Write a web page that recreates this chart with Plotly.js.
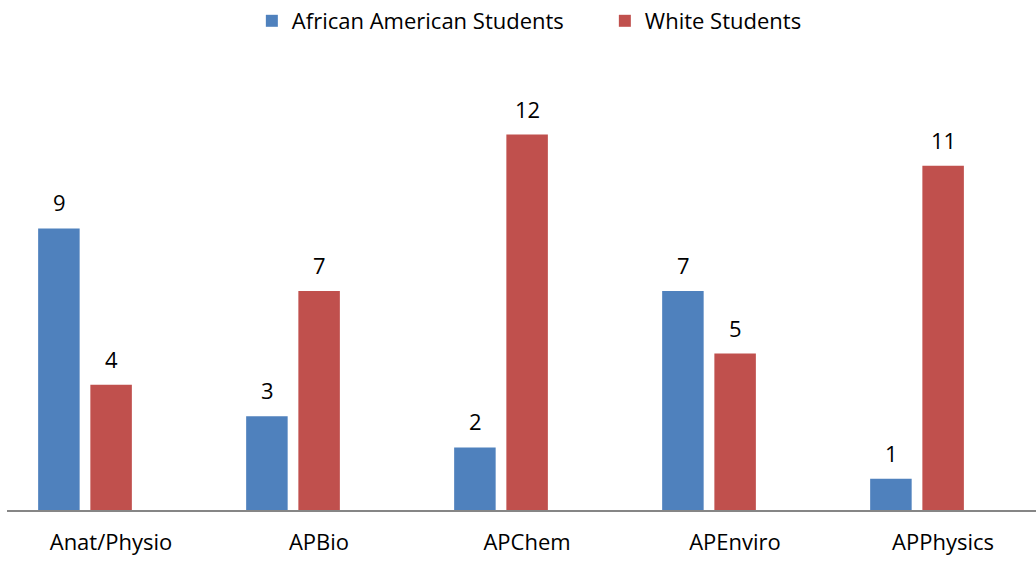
<!DOCTYPE html>
<html>
<head>
<meta charset="utf-8">
<script src="https://cdn.plot.ly/plotly-3.0.1.min.js"></script>
<style>html,body{margin:0;padding:0;background:#fff;}#chart{width:1036px;height:562px;}</style>
</head>
<body>
<div id="chart"></div>
<script>
var categories = ["Anat/Physio", "APBio", "APChem", "APEnviro", "APPhysics"];
var seriesNames = ["African American Students", "White Students"];
var africanAmerican = [9, 3, 2, 7, 1];
var white = [4, 7, 12, 5, 11];

var colors = ["#4F81BD", "#C0504D"];
var font = "Open Sans, Liberation Sans, Arial, sans-serif";

var traces = [
  {type: "bar", name: seriesNames[0], x: categories, y: africanAmerican,
   marker: {color: colors[0]}, hoverinfo: "none"},
  {type: "bar", name: seriesNames[1], x: categories, y: white,
   marker: {color: colors[1]}, hoverinfo: "none"}
];

var annotations = [];
[africanAmerican, white].forEach(function (vals, s) {
  vals.forEach(function (v, i) {
    annotations.push({
      x: categories[i], y: v, xref: "x", yref: "y",
      text: String(v), showarrow: false,
      xanchor: "center", yanchor: "middle",
      xshift: s === 0 ? -26 : 26, yshift: 26,
      font: {family: font, size: 22, color: "#000"}
    });
  });
});

var layout = {
  width: 1036, height: 562,
  margin: {l: 7, r: 0, t: 72, b: 52},
  paper_bgcolor: "#fff", plot_bgcolor: "#fff",
  barmode: "group", bargap: 0.498, bargroupgap: 0.205,
  showlegend: true,
  legend: {orientation: "h", x: 0.581, xanchor: "center", y: 1.0, yref: "container", yanchor: "top",
           font: {family: font, size: 22, color: "#000"}, itemwidth: 30, traceorder: "normal",
           entrywidth: 308, entrywidthmode: "pixels"},
  xaxis: {type: "category", range: [-0.375, 4.572], showline: true, linecolor: "#868686", linewidth: 1.5,
          ticks: "", showgrid: false, zeroline: false, ticklabelshift: 26, ticklabelstandoff: 12,
          tickfont: {family: font, size: 22, color: "#000"}, fixedrange: true},
  yaxis: {range: [0, 14], visible: false, showgrid: false, zeroline: false, fixedrange: true},
  annotations: annotations,
  font: {family: font}
};

Plotly.newPlot("chart", traces, layout, {displayModeBar: false, staticPlot: true});
</script>
</body>
</html>
